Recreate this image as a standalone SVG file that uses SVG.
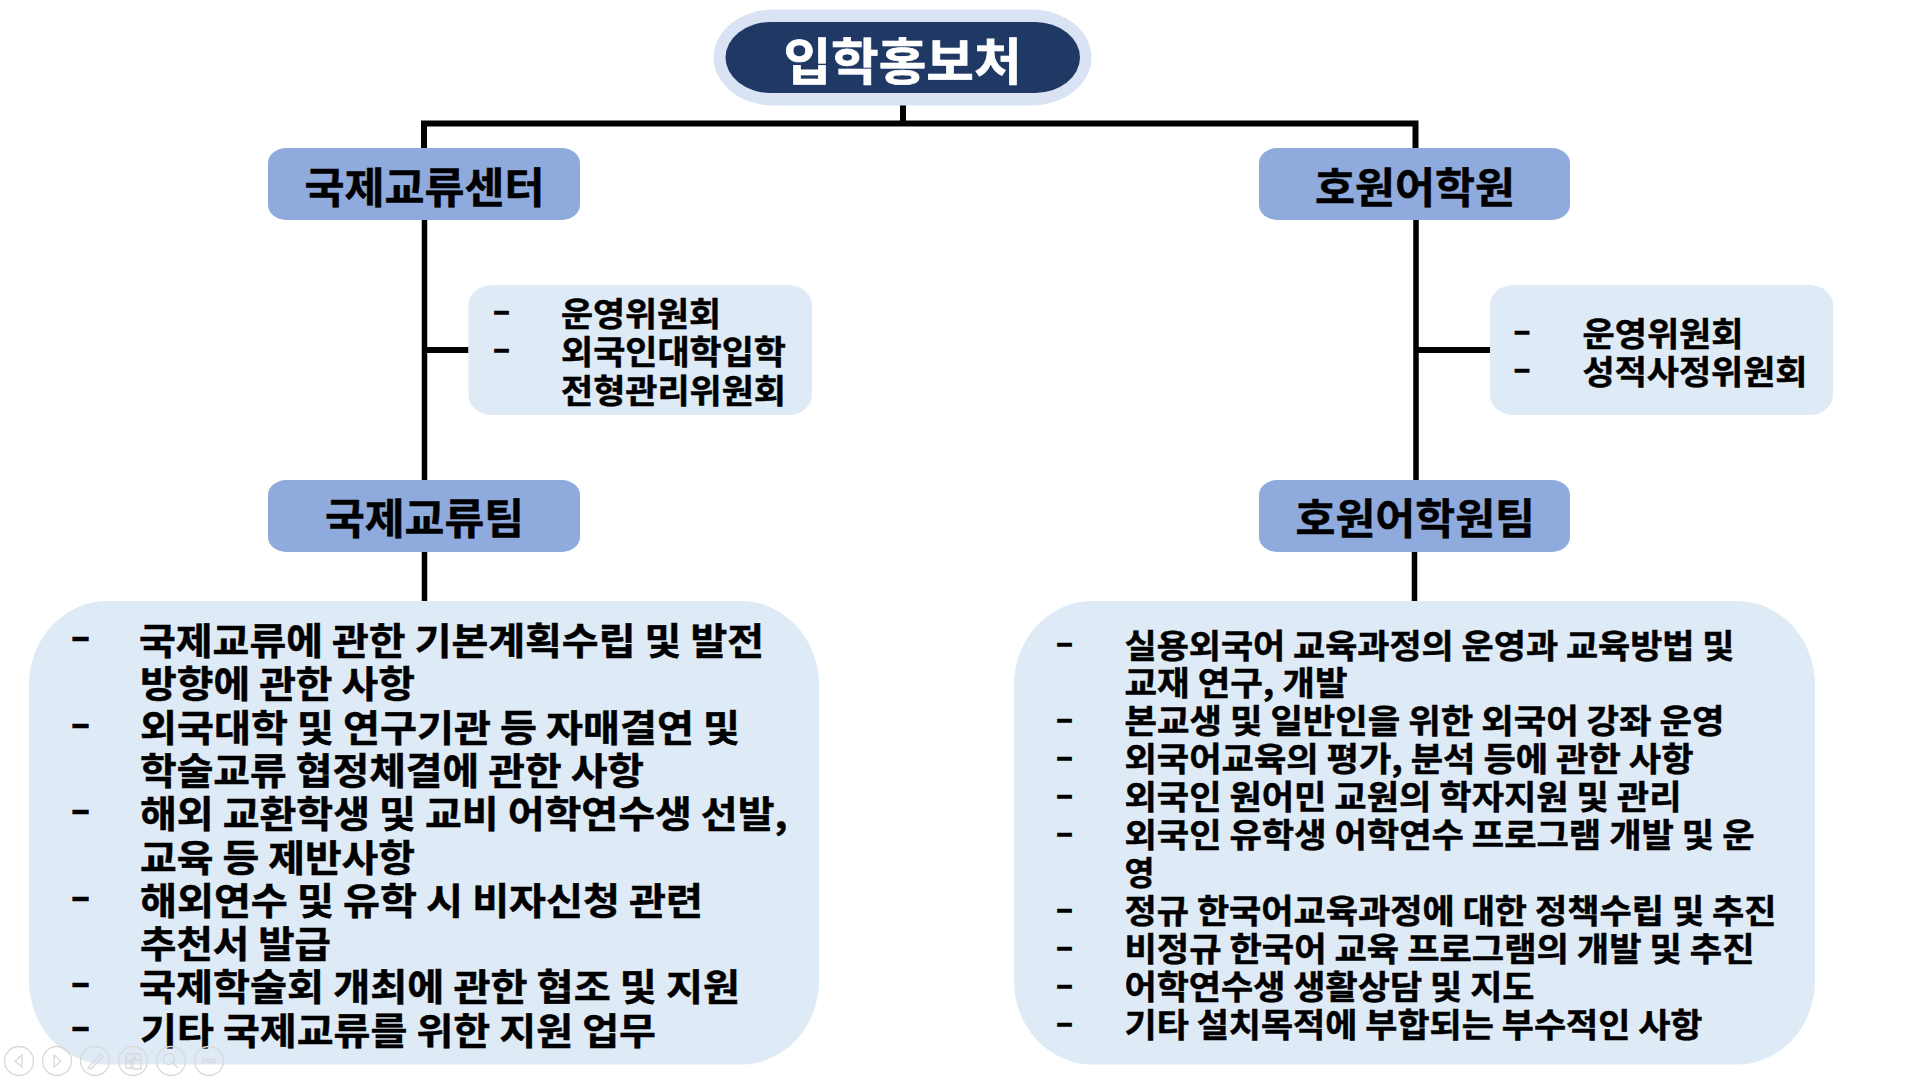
<svg xmlns="http://www.w3.org/2000/svg" width="1919" height="1079" viewBox="0 0 1919 1079">
<style>
text{font-family:"Noto Sans CJK KR","Noto Sans",sans-serif;font-weight:700;fill:#000;stroke:#000;stroke-width:.5px;white-space:pre}
.t{font-size:50px;fill:#fff;stroke:#fff;stroke-width:.7px}
.n{font-size:42px}
.l{font-size:37px}
.r{font-size:33px}
.s{font-size:33px}
.hd{fill:#8faadc}
.bx{fill:#deeaf6}
.c{fill:none;stroke:#000}
.ic{fill:none;stroke:#d9d9d9;stroke-width:1.3}
</style>
<rect width="1919" height="1079" fill="#fff"/>
<g id="connectors">
<path class="c" stroke-width="6" d="M903 99V124M424 148V123.500H1415.500V148"/>
<path class="c" stroke-width="5.500" d="M424.500 220V480M1416 220V480M424.500 552V601M1414.500 552V601"/>
<path class="c" stroke-width="6" d="M424.500 350H468.500M1416 350H1491"/>
</g>
<g id="root">
<rect x="713.500" y="9.500" width="378" height="96" rx="60" ry="48" fill="#dae3f3"/>
<rect x="725.500" y="22" width="354.500" height="71" rx="45" ry="35.500" fill="#203864"/>
<text class="t" x="783.500" y="80" textLength="238" lengthAdjust="spacingAndGlyphs">입학홍보처</text>
</g>
<g id="center-left">
<rect class="hd" x="268" y="148" width="312" height="72" rx="18" ry="15"/>
<text class="n" x="304.500" y="203" textLength="240" lengthAdjust="spacingAndGlyphs">국제교류센터</text>
</g>
<g id="center-right">
<rect class="hd" x="1259" y="148" width="311" height="72" rx="18" ry="15"/>
<text class="n" x="1315" y="203" textLength="200" lengthAdjust="spacingAndGlyphs">호원어학원</text>
</g>
<g id="committee-left">
<rect class="bx" x="468.500" y="285" width="343.500" height="130" rx="24" ry="20"/>
<text class="s" x="492" y="322" textLength="19" lengthAdjust="spacingAndGlyphs">-</text>
<text class="s" x="492" y="360" textLength="19" lengthAdjust="spacingAndGlyphs">-</text>
<text class="s" x="561" y="326" textLength="160" lengthAdjust="spacingAndGlyphs">운영위원회</text>
<text class="s" x="561" y="364" textLength="225" lengthAdjust="spacingAndGlyphs">외국인대학입학</text>
<text class="s" x="561" y="402.500" textLength="225" lengthAdjust="spacingAndGlyphs">전형관리위원회</text>
</g>
<g id="committee-right">
<rect class="bx" x="1490" y="285" width="343" height="130" rx="24" ry="20"/>
<text class="s" x="1512.500" y="342" textLength="19" lengthAdjust="spacingAndGlyphs">-</text>
<text class="s" x="1512.500" y="380" textLength="19" lengthAdjust="spacingAndGlyphs">-</text>
<text class="s" x="1582.500" y="346" textLength="161" lengthAdjust="spacingAndGlyphs">운영위원회</text>
<text class="s" x="1582.500" y="384" textLength="225" lengthAdjust="spacingAndGlyphs">성적사정위원회</text>
</g>
<g id="team-left">
<rect class="hd" x="268" y="480" width="312" height="72" rx="18" ry="15"/>
<text class="n" x="325" y="534" textLength="199" lengthAdjust="spacingAndGlyphs">국제교류팀</text>
</g>
<g id="team-right">
<rect class="hd" x="1259" y="480" width="311" height="72" rx="18" ry="15"/>
<text class="n" x="1295.500" y="534" textLength="239.500" lengthAdjust="spacingAndGlyphs">호원어학원팀</text>
</g>
<g id="duties-left">
<rect class="bx" x="29" y="601" width="790" height="463.500" rx="78" ry="84"/>
<text class="l" x="70" y="650" textLength="21" lengthAdjust="spacingAndGlyphs">-</text>
<text class="l" x="70" y="736.600" textLength="21" lengthAdjust="spacingAndGlyphs">-</text>
<text class="l" x="70" y="823.200" textLength="21" lengthAdjust="spacingAndGlyphs">-</text>
<text class="l" x="70" y="909.800" textLength="21" lengthAdjust="spacingAndGlyphs">-</text>
<text class="l" x="70" y="996.400" textLength="21" lengthAdjust="spacingAndGlyphs">-</text>
<text class="l" x="70" y="1039.700" textLength="21" lengthAdjust="spacingAndGlyphs">-</text>
<text class="l" x="139" y="655" textLength="625" lengthAdjust="spacingAndGlyphs">국제교류에 관한 기본계획수립 및 발전</text>
<text class="l" x="140" y="698.300" textLength="275" lengthAdjust="spacingAndGlyphs">방향에 관한 사항</text>
<text class="l" x="140" y="741.600" textLength="600" lengthAdjust="spacingAndGlyphs">외국대학 및 연구기관 등 자매결연 및</text>
<text class="l" x="140" y="784.900" textLength="504" lengthAdjust="spacingAndGlyphs">학술교류 협정체결에 관한 사항</text>
<text class="l" x="140" y="828.200" textLength="647.500" lengthAdjust="spacingAndGlyphs">해외 교환학생 및 교비 어학연수생 선발,</text>
<text class="l" x="140" y="871.500" textLength="275" lengthAdjust="spacingAndGlyphs">교육 등 제반사항</text>
<text class="l" x="140" y="914.800" textLength="563" lengthAdjust="spacingAndGlyphs">해외연수 및 유학 시 비자신청 관련</text>
<text class="l" x="140" y="958.100" textLength="191" lengthAdjust="spacingAndGlyphs">추천서 발급</text>
<text class="l" x="139" y="1001.400" textLength="601" lengthAdjust="spacingAndGlyphs">국제학술회 개최에 관한 협조 및 지원</text>
<text class="l" x="140" y="1044.700" textLength="516" lengthAdjust="spacingAndGlyphs">기타 국제교류를 위한 지원 업무</text>
</g>
<g id="duties-right">
<rect class="bx" x="1014" y="601" width="801" height="463.500" rx="78" ry="84"/>
<text class="r" x="1055" y="654" textLength="19" lengthAdjust="spacingAndGlyphs">-</text>
<text class="r" x="1055" y="730" textLength="19" lengthAdjust="spacingAndGlyphs">-</text>
<text class="r" x="1055" y="768" textLength="19" lengthAdjust="spacingAndGlyphs">-</text>
<text class="r" x="1055" y="806" textLength="19" lengthAdjust="spacingAndGlyphs">-</text>
<text class="r" x="1055" y="844" textLength="19" lengthAdjust="spacingAndGlyphs">-</text>
<text class="r" x="1055" y="920" textLength="19" lengthAdjust="spacingAndGlyphs">-</text>
<text class="r" x="1055" y="958" textLength="19" lengthAdjust="spacingAndGlyphs">-</text>
<text class="r" x="1055" y="996" textLength="19" lengthAdjust="spacingAndGlyphs">-</text>
<text class="r" x="1055" y="1034" textLength="19" lengthAdjust="spacingAndGlyphs">-</text>
<text class="r" x="1124.500" y="657.500" textLength="610" lengthAdjust="spacingAndGlyphs">실용외국어 교육과정의 운영과 교육방법 및</text>
<text class="r" x="1124.500" y="695" textLength="223" lengthAdjust="spacingAndGlyphs">교재 연구, 개발</text>
<text class="r" x="1124.500" y="733" textLength="600" lengthAdjust="spacingAndGlyphs">본교생 및 일반인을 위한 외국어 강좌 운영</text>
<text class="r" x="1124.500" y="771" textLength="569" lengthAdjust="spacingAndGlyphs">외국어교육의 평가, 분석 등에 관한 사항</text>
<text class="r" x="1124.500" y="809" textLength="557" lengthAdjust="spacingAndGlyphs">외국인 원어민 교원의 학자지원 및 관리</text>
<text class="r" x="1124.500" y="847" textLength="630" lengthAdjust="spacingAndGlyphs">외국인 유학생 어학연수 프로그램 개발 및 운</text>
<text class="r" x="1124.500" y="885" textLength="30" lengthAdjust="spacingAndGlyphs">영</text>
<text class="r" x="1124.500" y="923" textLength="652" lengthAdjust="spacingAndGlyphs">정규 한국어교육과정에 대한 정책수립 및 추진</text>
<text class="r" x="1124.500" y="961" textLength="630" lengthAdjust="spacingAndGlyphs">비정규 한국어 교육 프로그램의 개발 및 추진</text>
<text class="r" x="1124.500" y="999" textLength="410" lengthAdjust="spacingAndGlyphs">어학연수생 생활상담 및 지도</text>
<text class="r" x="1124.500" y="1037" textLength="578" lengthAdjust="spacingAndGlyphs">기타 설치목적에 부합되는 부수적인 사항</text>
</g>
<g id="slideshow-controls" class="ic">
<circle cx="19" cy="1061" r="14.500"/><path d="M22 1055V1067L15 1061Z"/>
<circle cx="57" cy="1061" r="14.500"/><path d="M54 1055V1067L61 1061Z"/>
<circle cx="95" cy="1061" r="14.500"/><path d="M88 1068L100 1054L103 1056L91 1069Z"/>
<circle cx="133" cy="1061" r="14.500"/><path d="M126 1054H133V1060H126ZM135 1054H140V1060H135ZM126 1062H131V1068H126ZM133 1060H141V1069H133Z"/>
<circle cx="171" cy="1061" r="14.500"/><circle cx="169" cy="1059" r="5.500"/><path d="M173 1063L178 1068"/>
<circle cx="209" cy="1061" r="14.500"/><circle cx="204" cy="1061" r="1.800"/><circle cx="209" cy="1061" r="1.800"/><circle cx="214" cy="1061" r="1.800"/>
</g>
</svg>
